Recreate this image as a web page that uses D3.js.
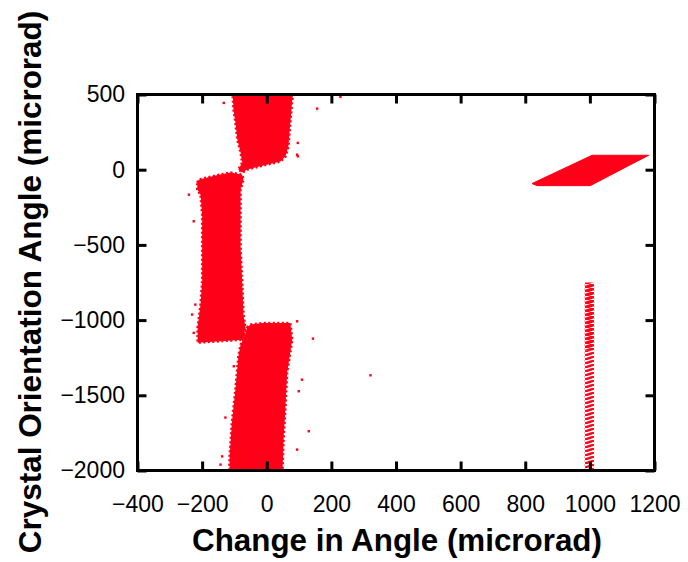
<!DOCTYPE html>
<html>
<head>
<meta charset="utf-8">
<script src="https://cdn.jsdelivr.net/npm/d3@7"></script>
<style>
  html, body { margin: 0; padding: 0; background: #ffffff; }
  svg { display: block; }
</style>
</head>
<body>
<script>
// ---------------- DATA ----------------
const xTicks = [-400, -200, 0, 200, 400, 600, 800, 1000, 1200];
const yTicks = [-2000, -1500, -1000, -500, 0, 500];
const xTitle = "Change in Angle (microrad)";
const yTitle = "Crystal Orientation Angle (microrad)";

// dense point clouds, outlined as [change in angle, orientation angle]
const cloudTop = [[-106,520],[83,520],[79,466],[73,313],[67,154],[58,87],[42,54],[-13,27],[-60,1],[-76,-19],[-88,1],[-76,47],[-81,114],[-91,200],[-97,313],[-103,400]];
const cloudMiddle = [[-215,-86],[-211,-66],[-159,-39],[-112,-19],[-76,-33],[-72,-66],[-81,-132],[-81,-299],[-81,-518],[-76,-744],[-72,-963],[-66,-1050],[-72,-1130],[-214,-1150],[-214,-1050],[-205,-897],[-200,-744],[-200,-299],[-205,-166],[-215,-132]];
const cloudBottom = [[-61,-1050],[-50,-1030],[-13,-1019],[73,-1019],[79,-1130],[63,-1350],[58,-1576],[52,-1795],[48,-2050],[-116,-2050],[-115,-1908],[-108,-1682],[-97,-1462],[-88,-1243],[-81,-1163],[-66,-1097]];
const cloudRight = [[821,-92],[1007,96],[1182,96],[1001,-106],[837,-106]];
// thin vertical band near 1000 microrad: [xLeft, xRight, yTop, yBottom]
const bandDense = [984, 1013, -750, -1200];
const bandSparse = [984, 1013, -1200, -2000];
// isolated points
const outliers = [[228,484],[156,406],[96,178],[96,89],[94,100],[143,-1123],[321,-1367],[94,-1008],[109,-1396],[99,-1473],[94,-1861],[130,-1739],[-102,-1307],[-128,-1648],[-143,-1961],[-138,-1906],[-226,-343],[-221,-897],[-231,-963],[-226,-1085],[-241,-166],[-133,444]];

// ---------------- CHART ----------------
const W = 688, H = 562;
const plot = {left: 137.5, right: 654.5, top: 94.5, bottom: 470.5};
const RED = "#ff0019";
const FONT = "Arial, 'Liberation Sans', Helvetica, sans-serif";

const svg = d3.select("body").append("svg").attr("width", W).attr("height", H);

const x = d3.scaleLinear().domain([-400, 1200]).range([plot.left, plot.right]);
const y = d3.scaleLinear().domain([-2000, 500]).range([plot.bottom, plot.top]);

const defs = svg.append("defs");
defs.append("clipPath").attr("id", "clip").append("rect")
  .attr("x", plot.left).attr("y", plot.top)
  .attr("width", plot.right - plot.left).attr("height", plot.bottom - plot.top);

const pSparse = defs.append("pattern").attr("id", "hatchSparse")
  .attr("patternUnits", "userSpaceOnUse").attr("width", 9).attr("height", 4);
pSparse.append("path").attr("d", "M0,3.5 L9,0.5").attr("stroke", RED).attr("stroke-width", 2.4);
const pDense = defs.append("pattern").attr("id", "hatchDense")
  .attr("patternUnits", "userSpaceOnUse").attr("width", 9).attr("height", 4);
pDense.append("path").attr("d", "M0,3.5 L9,0.5").attr("stroke", RED).attr("stroke-width", 3.4);

const g = svg.append("g").attr("clip-path", "url(#clip)");

const line = d3.line().x(d => x(d[0])).y(d => y(d[1])).curve(d3.curveLinearClosed);

[cloudTop, cloudMiddle, cloudBottom].forEach(c => {
  g.append("path").attr("d", line(c))
    .attr("fill", RED).attr("stroke", RED)
    .attr("stroke-width", 2.5).attr("stroke-dasharray", "2 2.5");
});
g.append("path").attr("d", line(cloudRight))
  .attr("fill", RED).attr("stroke", RED).attr("stroke-width", 1);

[[bandDense, "url(#hatchDense)"], [bandSparse, "url(#hatchSparse)"]].forEach(([b, f]) => {
  g.append("rect")
    .attr("x", x(b[0])).attr("width", x(b[1]) - x(b[0]))
    .attr("y", y(b[2])).attr("height", y(b[3]) - y(b[2]))
    .attr("fill", f);
});

g.selectAll("rect.pt").data(outliers).join("rect").attr("class", "pt")
  .attr("x", d => x(d[0]) - 1.2).attr("y", d => y(d[1]) - 1.2)
  .attr("width", 2.4).attr("height", 2.4).attr("fill", RED);

// ---------------- AXES ----------------
const TICK = 9, FS = 23;
const fmt = d3.format("d");

const axB = svg.append("g").attr("transform", `translate(0,${plot.bottom})`)
  .call(d3.axisBottom(x).tickValues(xTicks).tickSize(-TICK).tickPadding(25).tickFormat(fmt));
const axL = svg.append("g").attr("transform", `translate(${plot.left},0)`)
  .call(d3.axisLeft(y).tickValues(yTicks).tickSize(-TICK).tickPadding(12.5).tickFormat(fmt));
const axT = svg.append("g").attr("transform", `translate(0,${plot.top})`)
  .call(d3.axisTop(x).tickValues(xTicks).tickSize(-TICK).tickFormat(""));
const axR = svg.append("g").attr("transform", `translate(${plot.right},0)`)
  .call(d3.axisRight(y).tickValues(yTicks).tickSize(-TICK).tickFormat(""));

[axB, axL, axT, axR].forEach(a => {
  a.select(".domain").remove();
  a.selectAll(".tick line").attr("stroke", "#000").attr("stroke-width", 3);
  a.selectAll(".tick text").attr("font-family", FONT).attr("font-size", FS).attr("fill", "#000");
});

svg.append("rect")
  .attr("x", plot.left).attr("y", plot.top)
  .attr("width", plot.right - plot.left).attr("height", plot.bottom - plot.top)
  .attr("fill", "none").attr("stroke", "#000").attr("stroke-width", 3);

// ---------------- TITLES ----------------
function fitText(sel, target) {
  const base = 30;
  sel.attr("font-size", base);
  const w = sel.node().getComputedTextLength();
  sel.attr("font-size", base * target / w);
}
const tx = svg.append("text").text(xTitle)
  .attr("x", 397).attr("y", 551).attr("text-anchor", "middle")
  .attr("font-family", FONT).attr("font-weight", "bold").attr("fill", "#000");
fitText(tx, 410);

const ty = svg.append("text").text(yTitle)
  .attr("transform", "translate(41,282) rotate(-90)").attr("text-anchor", "middle")
  .attr("font-family", FONT).attr("font-weight", "bold").attr("fill", "#000");
fitText(ty, 543);
</script>
</body>
</html>
